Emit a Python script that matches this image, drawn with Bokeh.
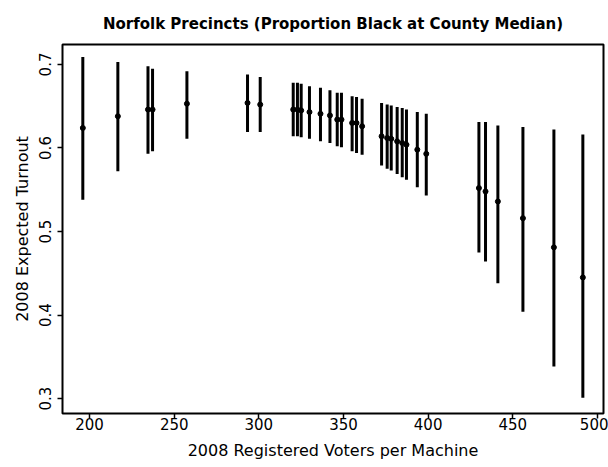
from bokeh.plotting import figure
from bokeh.models import Range1d, FixedTicker
from bokeh.embed import file_html
from bokeh.resources import INLINE

# Registered voters per machine for each Norfolk precinct
voters = [196.0, 216.7, 234.5, 237.2, 257.5, 293.3, 300.8, 320.3, 322.8, 325.0,
          329.9, 336.4, 342.0, 346.3, 348.8, 355.1, 357.7, 361.0, 372.5, 375.8,
          378.2, 381.7, 384.7, 387.2, 393.6, 398.9, 430.0, 433.9, 441.2, 456.0,
          474.3, 491.4]

# Expected turnout: point estimate with lower / upper interval bounds
estimate = [0.624, 0.638, 0.646, 0.646, 0.653, 0.654, 0.652, 0.646, 0.646, 0.645,
            0.643, 0.641, 0.639, 0.634, 0.634, 0.630, 0.630, 0.626, 0.614, 0.612,
            0.611, 0.608, 0.606, 0.604, 0.598, 0.593, 0.552, 0.548, 0.536, 0.516,
            0.481, 0.445]
lower = [0.538, 0.572, 0.593, 0.596, 0.611, 0.619, 0.619, 0.614, 0.614, 0.613,
         0.611, 0.608, 0.606, 0.602, 0.601, 0.596, 0.594, 0.592, 0.579, 0.575,
         0.573, 0.569, 0.565, 0.562, 0.553, 0.543, 0.475, 0.464, 0.438, 0.404,
         0.3385, 0.301]
upper = [0.709, 0.703, 0.698, 0.695, 0.692, 0.688, 0.685, 0.678, 0.678, 0.677,
         0.674, 0.672, 0.669, 0.666, 0.666, 0.662, 0.661, 0.659, 0.654, 0.652,
         0.651, 0.649, 0.648, 0.646, 0.643, 0.641, 0.631, 0.631, 0.627, 0.625,
         0.622, 0.616]

x_ticks = [200, 250, 300, 350, 400, 450, 500]
y_ticks = [0.3, 0.4, 0.5, 0.6, 0.7]

FONT = "DejaVu Sans"

p = figure(width=608, height=467, output_backend="svg", toolbar_location=None,
           x_range=Range1d(184.0, 503.6), y_range=Range1d(0.2821, 0.7239),
           min_border_left=62, min_border_right=5, min_border_top=43,
           min_border_bottom=54,
           title="Norfolk Precincts (Proportion Black at County Median)")

p.background_fill_color = "white"
p.border_fill_color = "white"
p.outline_line_color = "black"
p.outline_line_width = 2
p.xgrid.visible = False
p.ygrid.visible = False

p.title.align = "center"
p.title.text_font = FONT
p.title.text_font_size = "15px"
p.title.text_font_style = "bold"
p.title.text_color = "black"
p.title.standoff = 24

p.segment(x0=voters, y0=lower, x1=voters, y1=upper, line_color="black", line_width=3)
p.scatter(voters, estimate, size=5, color="black")

p.xaxis.ticker = FixedTicker(ticks=x_ticks)
p.yaxis.ticker = FixedTicker(ticks=y_ticks)
p.xaxis.axis_label = "2008 Registered Voters per Machine"
p.yaxis.axis_label = "2008 Expected Turnout"
p.yaxis.major_label_orientation = "vertical"

for ax in (p.xaxis[0], p.yaxis[0]):
    ax.axis_line_color = None
    ax.major_tick_line_color = "black"
    ax.major_tick_line_width = 1.5
    ax.major_tick_out = 5
    ax.major_tick_in = 0
    ax.minor_tick_line_color = None
    ax.major_label_text_font = FONT
    ax.major_label_text_font_size = "15px"
    ax.major_label_text_color = "black"
    ax.axis_label_text_font = FONT
    ax.axis_label_text_font_size = "16px"
    ax.axis_label_text_font_style = "normal"
    ax.axis_label_text_color = "black"

p.xaxis.major_label_standoff = -1
p.xaxis.axis_label_standoff = 8
p.yaxis.major_label_standoff = 6
p.yaxis.axis_label_standoff = 5

open("out.html", "w").write(file_html(p, INLINE))
